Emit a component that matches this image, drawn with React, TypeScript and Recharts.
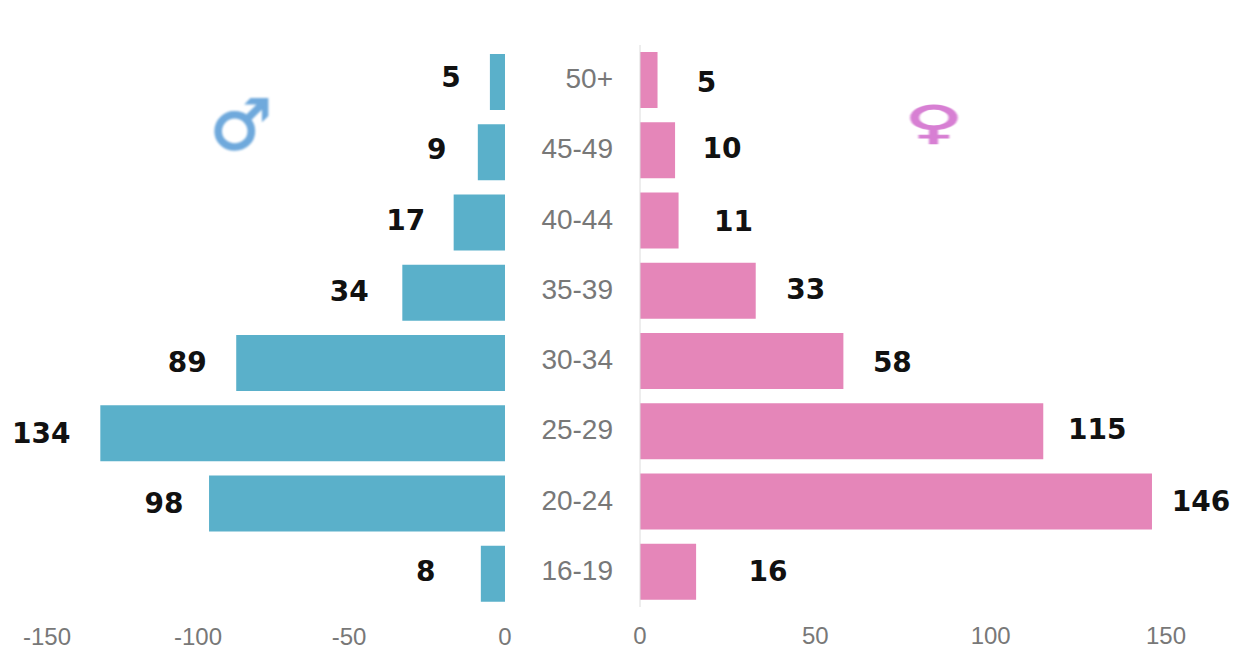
import { BarChart, Bar, XAxis, YAxis, LabelList } from 'recharts';

const ageGroups = ['50+', '45-49', '40-44', '35-39', '30-34', '25-29', '20-24', '16-19'];
const maleCounts = [-5, -9, -17, -34, -89, -134, -98, -8];
const femaleCounts = [5, 10, 11, 33, 58, 115, 146, 16];
const maleTicks = [-150, -100, -50, 0];
const femaleTicks = [0, 50, 100, 150];

// hand placed labels in the original, so each one has its own nudge from the bar end
const maleNudgeX = [39, 41, 48, 53, 49, 59, 45, 55];
const maleNudgeY = [-5, -3, -2, -1, -1, 0, 0, -2];
const femaleNudgeX = [49, 47, 55, 50, 49, 54, 49, 72];
const femaleNudgeY = [2, -2, 1, -1, 1, -2, 0, 0];

const maleRows = ageGroups.map((age, i) => ({ age, value: maleCounts[i] }));
const femaleRows = ageGroups.map((age, i) => ({ age, value: femaleCounts[i] }));

const tickStyle = { fontSize: 24, fill: '#787878', fontFamily: 'Liberation Sans' };
const ageTickStyle = { ...tickStyle, fontSize: 28, dy: -2 };

function ValueLabel(props: any) {
  const { x, y, width, height, value, index, side } = props;
  const male = side === 'male';
  // the male bars run leftwards, width comes through negative
  const end = x + width;
  const cx = male ? end - maleNudgeX[index] : end + femaleNudgeX[index];
  const cy = y + height / 2 + (male ? maleNudgeY[index] : femaleNudgeY[index]);
  return (
    <text
      x={cx}
      y={cy}
      textAnchor="middle"
      dominantBaseline="central"
      fontFamily="DejaVu Sans"
      fontWeight="bold"
      fontSize={28}
      fill="#111"
    >
      {Math.abs(value)}
    </text>
  );
}

// the negative labels sit a little left of their gridpoint in the original
function MaleTick(props: any) {
  const { x, y, payload } = props;
  return (
    <text x={payload.value < 0 ? x - 5 : x} y={y} dy={15} textAnchor="middle" {...tickStyle}>
      {payload.value}
    </text>
  );
}

export default function App() {
  return (
    <div style={{ position: 'absolute', left: 0, top: 0, width: 1234, height: 650, background: '#fff', overflow: 'hidden' }}>
      <div style={{ position: 'absolute', left: 0, top: 0 }}>
        <BarChart
          width={540}
          height={650}
          layout="vertical"
          data={maleRows}
          barCategoryGap={7}
          margin={{ top: 47, right: 35, left: 52, bottom: 0 }}
        >
          <XAxis
            type="number"
            dataKey="value"
            domain={[-150, 0]}
            ticks={maleTicks}
            axisLine={false}
            tickLine={false}
            tick={<MaleTick />}
            tickMargin={15}
            height={41}
          />
          <YAxis type="category" dataKey="age" hide />
          <Bar dataKey="value" fill="#5ab0ca" isAnimationActive={false}>
            <LabelList dataKey="value" content={(p: any) => <ValueLabel {...p} side="male" />} />
          </Bar>
        </BarChart>
      </div>
      <div style={{ position: 'absolute', left: 0, top: 0 }}>
        <BarChart
          width={1234}
          height={650}
          layout="vertical"
          data={femaleRows}
          barCategoryGap={7}
          margin={{ top: 45, right: 68, left: 0, bottom: 0 }}
        >
          <XAxis
            type="number"
            dataKey="value"
            domain={[0, 150]}
            ticks={femaleTicks}
            axisLine={false}
            tickLine={false}
            tick={tickStyle}
            tickMargin={14}
            height={43}
          />
          <YAxis
            type="category"
            dataKey="age"
            width={640}
            axisLine={{ stroke: '#dcdcdc' }}
            tickLine={false}
            tick={ageTickStyle}
            tickMargin={21}
          />
          <Bar dataKey="value" fill="#e586b9" isAnimationActive={false}>
            <LabelList dataKey="value" content={(p: any) => <ValueLabel {...p} side="female" />} />
          </Bar>
        </BarChart>
      </div>
      <svg width={1234} height={650} style={{ position: 'absolute', left: 0, top: 0, pointerEvents: 'none' }}>
        <text
          x={241}
          y={125}
          textAnchor="middle"
          dominantBaseline="central"
          fontFamily="DejaVu Sans"
          fontWeight="bold"
          fontSize={70}
          fill="#6fa9dc"
          stroke="#6fa9dc"
          strokeWidth={1.5}
          style={{ filter: 'blur(0.8px)' }}
        >
          ♂
        </text>
        <text
          transform="translate(934 122) scale(1.35 0.75)"
          textAnchor="middle"
          dominantBaseline="central"
          fontFamily="DejaVu Sans"
          fontWeight="bold"
          fontSize={60}
          fill="#d77fd3"
          stroke="#d77fd3"
          strokeWidth={1.5}
          style={{ filter: 'blur(0.8px)' }}
        >
          ♀
        </text>
      </svg>
    </div>
  );
}
